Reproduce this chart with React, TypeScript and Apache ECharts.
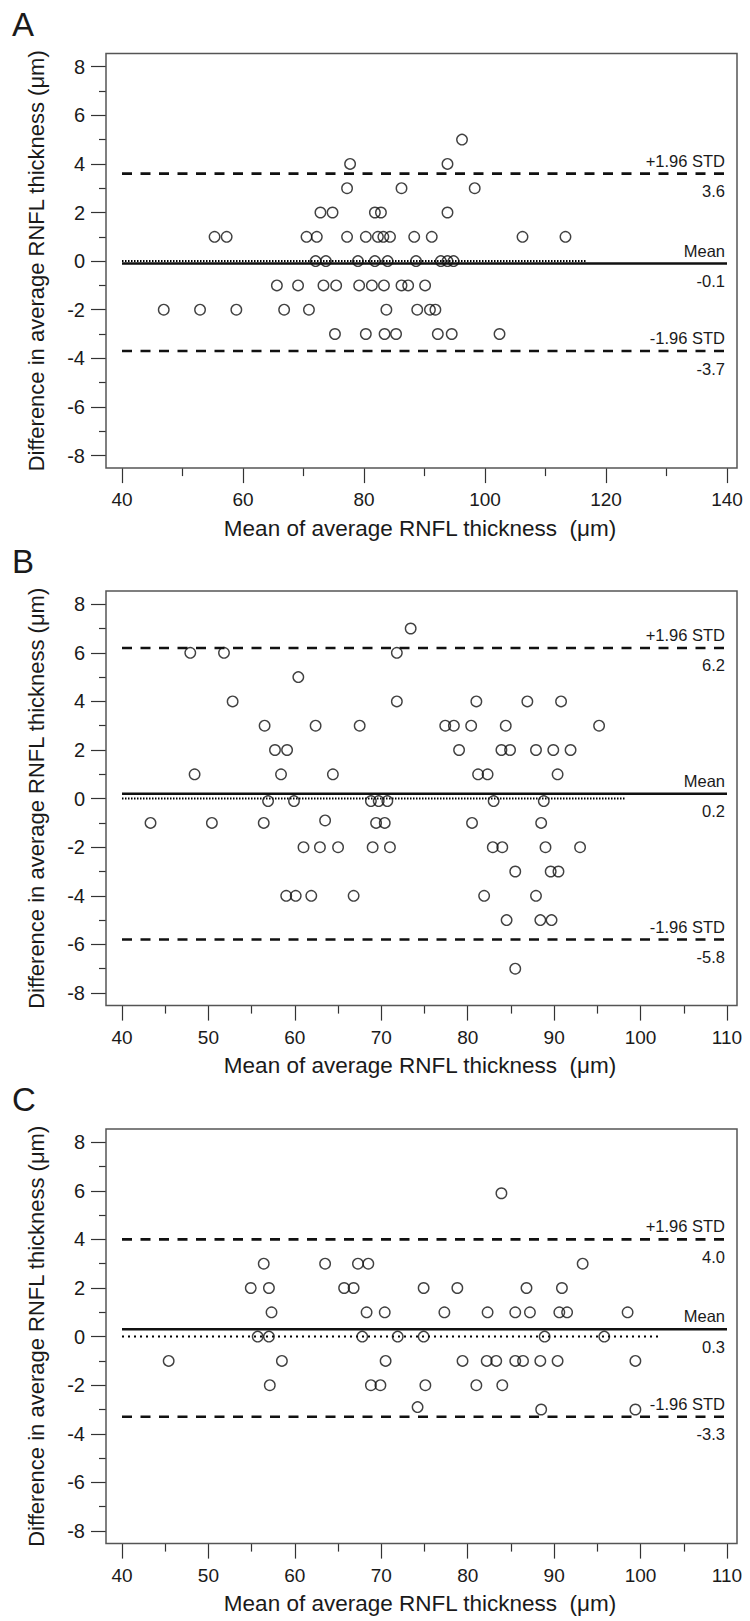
import React, { useEffect, useRef } from "react";
import * as echarts from "echarts";

// ---------- data ----------
const panelLetters = ["A", "B", "C"];
const xAxisMin = [40, 40, 40];
const xAxisMax = [140, 110, 110];
const xAxisInterval = [20, 10, 10];
const yAxisMin = -8;
const yAxisMax = 8;
const yAxisInterval = 2;

// Panel A: mean of average RNFL thickness vs difference
const aMean = [
  96.2,
  77.7, 93.8,
  77.2, 86.2, 98.3,
  72.8, 74.8, 81.8, 82.8, 93.8,
  55.3, 57.3, 70.5, 72.2, 77.2, 80.3, 82.3, 83.2, 84.3, 88.3, 91.2, 106.2, 113.3,
  72.0, 73.7, 79.0, 81.8, 83.9, 88.6, 92.7, 93.8, 94.8,
  65.6, 69.1, 73.3, 75.4, 79.2, 81.3, 83.3, 86.2, 87.3, 90.1,
  46.9, 52.9, 58.9, 66.8, 70.9, 83.7, 88.8, 90.9, 91.8,
  75.2, 80.3, 83.4, 85.3, 92.2, 94.5, 102.4,
];
const aDiff = [
  5,
  4, 4,
  3, 3, 3,
  2, 2, 2, 2, 2,
  1, 1, 1, 1, 1, 1, 1, 1, 1, 1, 1, 1, 1,
  0, 0, 0, 0, 0, 0, 0, 0, 0,
  -1, -1, -1, -1, -1, -1, -1, -1, -1, -1,
  -2, -2, -2, -2, -2, -2, -2, -2, -2,
  -3, -3, -3, -3, -3, -3, -3,
];

// Panel B
const bMean = [
  73.4,
  47.9, 51.8, 71.8,
  60.4,
  52.8, 71.8, 81.0, 86.9, 90.8,
  56.5, 62.4, 67.5, 77.4, 78.4, 80.4, 84.4, 95.2,
  57.7, 59.1, 79.0, 83.9, 84.9, 87.9, 89.9, 91.9,
  48.4, 58.4, 64.4, 81.2, 82.3, 90.4,
  56.9, 59.9, 68.8, 69.7, 70.7, 83.0, 88.8,
  43.3, 50.4, 56.4, 63.5, 69.4, 70.4, 80.5, 88.5,
  61.0, 62.9, 65.0, 69.0, 71.0, 82.9, 84.0, 89.0, 93.0,
  85.5, 89.6, 90.5,
  59.0, 60.1, 61.9, 66.8, 81.9, 87.9,
  84.5, 88.4, 89.7,
  85.5,
];
const bDiff = [
  7,
  6, 6, 6,
  5,
  4, 4, 4, 4, 4,
  3, 3, 3, 3, 3, 3, 3, 3,
  2, 2, 2, 2, 2, 2, 2, 2,
  1, 1, 1, 1, 1, 1,
  -0.1, -0.1, -0.1, -0.1, -0.1, -0.1, -0.1,
  -1, -1, -1, -0.9, -1, -1, -1, -1,
  -2, -2, -2, -2, -2, -2, -2, -2, -2,
  -3, -3, -3,
  -4, -4, -4, -4, -4, -4,
  -5, -5, -5,
  -7,
];

// Panel C
const cMean = [
  83.9,
  56.4, 63.5, 67.3, 68.5, 93.3,
  54.9, 57.0, 65.7, 66.8, 74.9, 78.8, 86.8, 90.9,
  57.3, 68.3, 70.4, 77.3, 82.3, 85.5, 87.2, 90.6, 91.5, 98.5,
  55.7, 57.0, 67.8, 71.9, 74.9, 88.9, 95.8,
  45.4, 58.5, 70.5, 79.4, 82.2, 83.3, 85.5, 86.4, 88.4, 90.4, 99.4,
  57.1, 68.8, 69.9, 75.1, 81.0, 84.0,
  74.2, 88.5, 99.4,
];
const cDiff = [
  5.9,
  3, 3, 3, 3, 3,
  2, 2, 2, 2, 2, 2, 2, 2,
  1, 1, 1, 1, 1, 1, 1, 1, 1, 1,
  0, 0, 0, 0, 0, 0, 0,
  -1, -1, -1, -1, -1, -1, -1, -1, -1, -1, -1,
  -2, -2, -2, -2, -2, -2,
  -2.9, -3, -3,
];

const panelMeans = [aMean, bMean, cMean];
const panelDiffs = [aDiff, bDiff, cDiff];

const upperLimits = [3.6, 6.2, 4.0];
const meanDiffs = [-0.1, 0.2, 0.3];
const lowerLimits = [-3.7, -5.8, -3.3];
const zeroLineStart = [40, 40, 40];
const zeroLineEnd = [116.8, 98.2, 102.4];

const upperName = "+1.96 STD";
const meanName = "Mean";
const lowerName = "-1.96 STD";
const yTitle = "Difference in average RNFL thickness (μm)";
const xTitle = "Mean of average RNFL thickness  (μm)";

// ---------- layout ----------
const FONT = '"Liberation Sans", Arial, Helvetica, sans-serif';
const dataTop = [66.7, 604.2, 1142.2];
const dataHeight = 388.8;
const frameLeft = 106;
const frameWidth = 631;
const frameOffsetTop = 13.2;
const frameHeight = 414.5;
const dottedPatterns = [[1.5, 1.5], [1.5, 1.5], [2, 4]];

export default function App() {
  const ref = useRef<HTMLDivElement>(null);

  useEffect(() => {
    const el = ref.current;
    if (!el) return;
    const chart = echarts.init(el, undefined, { renderer: "svg", width: 750, height: 1621 });

    const grids: any[] = [];
    const xAxes: any[] = [];
    const yAxes: any[] = [];
    const series: any[] = [];

    const tickStyle = { color: "#333", width: 1.2 };

    for (let i = 0; i < 3; i++) {
      grids.push({ left: 122, right: 23, top: dataTop[i], height: dataHeight });
      xAxes.push({
        type: "value",
        gridIndex: i,
        min: xAxisMin[i],
        max: xAxisMax[i],
        interval: xAxisInterval[i],
        offset: 12.6,
        axisLine: { show: false, onZero: false },
        axisTick: { show: true, length: 15, lineStyle: tickStyle },
        minorTick: { show: true, splitNumber: 2, length: 8, lineStyle: tickStyle },
        axisLabel: { fontSize: 19, color: "#1a1a1a", margin: 22, fontFamily: FONT },
        splitLine: { show: false },
        minorSplitLine: { show: false },
      });
      yAxes.push({
        type: "value",
        gridIndex: i,
        min: yAxisMin,
        max: yAxisMax,
        interval: yAxisInterval,
        offset: 16,
        axisLine: { show: false, onZero: false },
        axisTick: { show: true, length: 15, lineStyle: tickStyle },
        minorTick: { show: true, splitNumber: 2, length: 7, lineStyle: tickStyle },
        axisLabel: { fontSize: 20, color: "#1a1a1a", margin: 21, fontFamily: FONT },
        splitLine: { show: false },
        minorSplitLine: { show: false },
      });

      const pts = panelMeans[i].map((m, k) => [m, panelDiffs[i][k]]);
      series.push({
        type: "scatter",
        xAxisIndex: i,
        yAxisIndex: i,
        data: pts,
        symbol: "circle",
        symbolSize: 10.5,
        itemStyle: { color: "rgba(0,0,0,0)", borderColor: "#111", borderWidth: 1.4 },
        z: 3,
      });
      const lineBase = { type: "line", xAxisIndex: i, yAxisIndex: i, symbol: "none", silent: true };
      series.push({
        ...lineBase,
        data: [[xAxisMin[i], upperLimits[i]], [xAxisMax[i], upperLimits[i]]],
        lineStyle: { color: "#111", width: 2.6, type: [10, 8.5] },
        z: 2,
      });
      series.push({
        ...lineBase,
        data: [[xAxisMin[i], lowerLimits[i]], [xAxisMax[i], lowerLimits[i]]],
        lineStyle: { color: "#111", width: 2.6, type: [10, 8.5] },
        z: 2,
      });
      series.push({
        ...lineBase,
        data: [[xAxisMin[i], meanDiffs[i]], [xAxisMax[i], meanDiffs[i]]],
        lineStyle: { color: "#111", width: 2.6, type: "solid" },
        z: 2,
      });
      series.push({
        ...lineBase,
        data: [[zeroLineStart[i], 0], [zeroLineEnd[i], 0]],
        lineStyle: { color: "#000", width: 2, type: dottedPatterns[i] },
        z: 2,
      });
    }

    chart.setOption({
      animation: false,
      backgroundColor: "#fff",
      textStyle: { fontFamily: FONT },
      grid: grids,
      xAxis: xAxes,
      yAxis: yAxes,
      series,
    });

    const txt = (text: string, x: number, y: number, size: number, align: string, extra: any = {}) => ({
      type: "text",
      x,
      y,
      silent: true,
      ...extra,
      style: {
        text,
        fill: "#1a1a1a",
        font: `${size}px ${FONT}`,
        fontSize: size,
        fontFamily: FONT,
        align,
        textAlign: align,
        verticalAlign: "middle",
        textVerticalAlign: "middle",
      },
    });

    const graphics: any[] = [];
    for (let i = 0; i < 3; i++) {
      const fTop = dataTop[i] - frameOffsetTop;
      graphics.push({
        type: "rect",
        silent: true,
        shape: { x: frameLeft, y: fTop, width: frameWidth, height: frameHeight },
        style: { fill: "none", stroke: "#555", lineWidth: 1.5 },
        z: 1,
      });
      graphics.push(txt(panelLetters[i], 12, fTop - 29.2, 33, "left"));
      graphics.push(
        txt(yTitle, 36, fTop + frameHeight / 2, 22, "center", { rotation: Math.PI / 2 })
      );
      graphics.push(txt(xTitle, 420, fTop + 474.8, 22.5, "center"));

      const lines = [
        [upperLimits[i], upperName],
        [meanDiffs[i], meanName],
        [lowerLimits[i], lowerName],
      ] as [number, string][];
      lines.forEach(([v, name]) => {
        const p = chart.convertToPixel({ gridIndex: i }, [xAxisMax[i], v]) as number[];
        const valText = v.toFixed(1);
        graphics.push(txt(name, p[0] - 2, p[1] - 13, 16.5, "right"));
        graphics.push(txt(valText, p[0] - 2, p[1] + 17.5, 16.5, "right"));
      });
    }

    chart.setOption({ graphic: graphics });

    return () => {
      chart.dispose();
    };
  }, []);

  return (
    <div
      ref={ref}
      style={{ position: "absolute", left: 0, top: 0, width: 750, height: 1621, background: "#fff" }}
    />
  );
}
